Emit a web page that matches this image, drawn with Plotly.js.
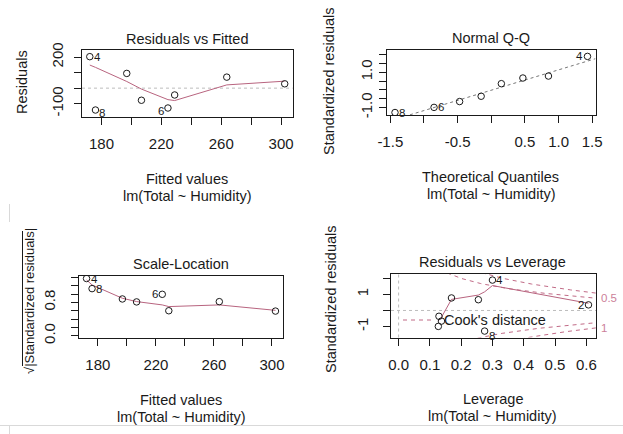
<!DOCTYPE html>
<html>
<head>
<meta charset="utf-8">
<script src="https://cdn.plot.ly/plotly-3.0.1.min.js"></script>
<style>
  html, body { margin: 0; padding: 0; background: #ffffff; }
  #plot { width: 623px; height: 434px; }
</style>
</head>
<body>
<div id="plot"></div>
<script>
// Regression diagnostics for lm(Total ~ Humidity), eight observations.
const modelCall = 'lm(Total ~ Humidity)';
const obsLabel = ['4', '8', '', '', '6', '', '', '2'];
const fittedValues = [172.2, 176.0, 196.9, 206.7, 224.4, 228.9, 263.7, 302.4];
const residuals = [203, -141, 95, -78, -128, -44, 71, 28];
const stdResiduals = [1.89, -1.28, 0.78, -0.66, -0.99, -0.36, 0.67, 0.35];
const leverage = [0.300, 0.275, 0.169, 0.137, 0.127, 0.129, 0.255, 0.607];
const theoreticalQuantiles = [-1.43, -0.85, -0.47, -0.15, 0.15, 0.47, 0.85, 1.43];

// lowess smooths, one value per fitted value / sorted leverage
const residSmooth = [149, 134, 43, -6, -74, -80, 21, 45];
const scaleSmooth = [1.34, 1.22, 0.90, 0.82, 0.74, 0.70, 0.74, 0.61];
const leverageSmooth = [-0.66, -0.58, -0.42, 0.69, 0.96, 1.16, 1.55, 0.45];

// Q-Q reference line and Cook's distance contours
const qqSlope = 1.15;
const qqIntercept = -0.02;
const cookLevels = [0.5, 1];
const nCoef = 2;

// axis ranges
const fittedRange = [167, 307.6];
const residRange = [-186, 246];
const qqXRange = [-1.549, 1.549];
const qqYRange = [-1.42, 2.28];
const slYRange = [-0.055, 1.435];
const levXRange = [-0.0243, 0.631];
const levYRange = [-1.68, 2.30];

const W = 623, H = 434;
const px = v => v / W;
const py = v => 1 - v / H;

const FONT = 'Liberation Sans, Arial, Helvetica, sans-serif';
const INK = '#1a1a1a';
const SMOOTH = '#b8647f';
const COOK = '#c06a86';
const COOK_TXT = '#cc7f99';

const sqrtAbs = stdResiduals.map(v => Math.sqrt(Math.abs(v)));
const qqY = stdResiduals.slice().sort((a, b) => a - b);
const qqOrderLabel = stdResiduals.map((v, i) => [v, obsLabel[i]]).sort((a, b) => a[0] - b[0]).map(d => d[1]);
const levOrder = leverage.map((v, i) => i).sort((a, b) => leverage[a] - leverage[b]);
const levSorted = levOrder.map(i => leverage[i]);

function pts(x, y, xa, ya) {
  return { x, y, xaxis: xa, yaxis: ya, type: 'scatter', mode: 'markers', hoverinfo: 'skip',
    marker: { symbol: 'circle-open', size: 6.5, color: INK, line: { width: 1, color: INK } } };
}
function line(x, y, xa, ya, color, dash, width) {
  return { x, y, xaxis: xa, yaxis: ya, type: 'scatter', mode: 'lines', hoverinfo: 'skip',
    line: { color, width: width || 1, dash: dash || 'solid' } };
}

const traces = [];
// Residuals vs Fitted
traces.push(line(fittedValues, residSmooth, 'x', 'y', SMOOTH));
traces.push(pts(fittedValues, residuals, 'x', 'y'));
// Normal Q-Q
traces.push(line(qqXRange, qqXRange.map(q => qqIntercept + qqSlope * q), 'x2', 'y2', '#777777', 'dot'));
traces.push(pts(theoreticalQuantiles, qqY, 'x2', 'y2'));
// Scale-Location
traces.push(line(fittedValues, scaleSmooth, 'x3', 'y3', SMOOTH));
traces.push(pts(fittedValues, sqrtAbs, 'x3', 'y3'));
// Residuals vs Leverage: Cook's distance contours
const hStart = Math.min(levSorted[0], levSorted[levSorted.length - 1] / 100);
const hh = [];
for (let k = 0; k <= 100; k++) hh.push(hStart + (levXRange[1] - hStart) * k / 100);
cookLevels.forEach(crit => {
  const cl = hh.map(h => Math.sqrt(crit * nCoef * (1 - h) / h));
  traces.push(line(hh, cl, 'x4', 'y4', COOK, '4px,4px'));
  traces.push(line(hh, cl.map(v => -v), 'x4', 'y4', COOK, '4px,4px'));
});
traces.push(line(levSorted, leverageSmooth, 'x4', 'y4', SMOOTH));
traces.push(pts(leverage, stdResiduals, 'x4', 'y4'));

function axis(domain, range, tickvals, ticktext, extra) {
  return Object.assign({
    domain, range, tickvals, ticktext, autorange: false, fixedrange: true,
    showline: true, mirror: true, linecolor: INK, linewidth: 1,
    ticks: 'outside', ticklen: 7, tickwidth: 1, tickcolor: INK,
    showgrid: false, zeroline: false,
    tickfont: { family: FONT, size: 15, color: INK }
  }, extra || {});
}
const fitTicks = [180, 200, 220, 240, 260, 280, 300];
const fitText = ['180', '', '220', '', '260', '', '300'];

const layout = {
  width: W, height: H, margin: { l: 0, r: 0, t: 0, b: 0 },
  paper_bgcolor: '#ffffff', plot_bgcolor: 'rgba(0,0,0,0)', showlegend: false,
  font: { family: FONT, color: INK },
  xaxis: axis([px(82), px(292.5)], fittedRange, fitTicks, fitText, { anchor: 'y', ticklabelstandoff: 6 }),
  yaxis: axis([py(117), py(50)], residRange, [-100, 0, 100, 200], ['-100', '', '', '200'], { anchor: 'x', tickangle: -90, ticklabelstandoff: 5 }),
  xaxis2: axis([px(387), px(595.5)], qqXRange, [-1.5, -1, -0.5, 0, 0.5, 1, 1.5], ['-1.5', '', '-0.5', '', '0.5', '1.0', '1.5'], { anchor: 'y2', ticklabelstandoff: 6 }),
  yaxis2: axis([py(115), py(49.5)], qqYRange, [-1, -0.5, 0, 0.5, 1, 1.5, 2], ['-1.0', '', '', '', '1.0', '', ''], { anchor: 'x2', tickangle: -90, ticklabelstandoff: 1 }),
  xaxis3: axis([px(79), px(283)], fittedRange, fitTicks, fitText, { anchor: 'y3', ticklabelstandoff: 6 }),
  yaxis3: axis([py(338), py(276)], slYRange, [0, 0.2, 0.4, 0.6, 0.8, 1.0, 1.2, 1.4], ['0.0', '', '', '', '0.8', '', '', ''], { anchor: 'x3', tickangle: -90, ticklabelstandoff: 10 }),
  xaxis4: axis([px(391), px(596)], levXRange, [0, 0.1, 0.2, 0.3, 0.4, 0.5, 0.6], ['0.0', '0.1', '0.2', '0.3', '0.4', '0.5', '0.6'], { anchor: 'y4', ticklabelstandoff: 6 }),
  yaxis4: axis([py(337.5), py(273.5)], levYRange, [-1, 0, 1, 2], ['-1', '', '1', ''], { anchor: 'x4', tickangle: -90, ticklabelstandoff: 9 }),
  shapes: [], annotations: []
};

// dotted reference lines
const dotted = { color: '#bdbdbd', width: 1, dash: 'dot' };
layout.shapes.push({ type: 'line', xref: 'x domain', yref: 'y', x0: 0, x1: 1, y0: 0, y1: 0, line: dotted, layer: 'below' });
layout.shapes.push({ type: 'line', xref: 'x4 domain', yref: 'y4', x0: 0, x1: 1, y0: 0, y1: 0, line: dotted, layer: 'below' });
layout.shapes.push({ type: 'line', xref: 'x4', yref: 'y4 domain', x0: 0, x1: 0, y0: 0, y1: 1, line: dotted, layer: 'below' });

// Cook's distance legend
layout.shapes.push({ type: 'line', xref: 'paper', yref: 'paper', x0: px(403), x1: px(431), y0: py(320), y1: py(320),
  line: { color: COOK, width: 1, dash: '4px,4px' } });
layout.annotations.push({ xref: 'paper', yref: 'paper', x: px(442), y: py(320), xanchor: 'left', yanchor: 'middle',
  text: "Cook's distance", showarrow: false, font: { family: FONT, size: 14.5, color: INK } });

// Cook's level labels on the right edge
const xmax = Math.min(0.99, levXRange[1]);
const ymult = Math.sqrt(nCoef * (1 - xmax) / xmax);
layout.annotations.push({ xref: 'paper', yref: 'y4', x: px(599), y: Math.sqrt(cookLevels[0]) * ymult, xanchor: 'left', yanchor: 'middle',
  text: String(cookLevels[0]), showarrow: false, font: { family: FONT, size: 11.5, color: COOK_TXT } });
layout.annotations.push({ xref: 'paper', yref: 'y4', x: px(599), y: -Math.sqrt(cookLevels[1]) * ymult, xanchor: 'left', yanchor: 'middle',
  text: String(cookLevels[1]), showarrow: false, font: { family: FONT, size: 11.5, color: COOK_TXT } });

// observation id labels
function idLabel(xa, ya, x, y, text, side, dy) {
  layout.annotations.push({ xref: xa, yref: ya, x, y, text, showarrow: false,
    xanchor: side === 'right' ? 'left' : 'right', yanchor: 'middle',
    xshift: side === 'right' ? 2 : -2, yshift: dy || 0,
    font: { family: FONT, size: 11.5, color: INK } });
}
const sideRF = { '4': ['right', 0], '8': ['right', -3], '6': ['left', -3] };
fittedValues.forEach((f, i) => { const s = sideRF[obsLabel[i]]; if (s) idLabel('x', 'y', f, residuals[i], obsLabel[i], s[0], s[1]); });
const sideQQ = { '8': ['right', 0], '6': ['right', 0], '4': ['left', 0] };
theoreticalQuantiles.forEach((q, i) => { const s = sideQQ[qqOrderLabel[i]]; if (s) idLabel('x2', 'y2', q, qqY[i], qqOrderLabel[i], s[0], s[1]); });
const sideSL = { '4': ['right', 0], '8': ['right', 0], '6': ['left', 0] };
fittedValues.forEach((f, i) => { const s = sideSL[obsLabel[i]]; if (s) idLabel('x3', 'y3', f, sqrtAbs[i], obsLabel[i], s[0], s[1]); });
const sideLV = { '4': ['right', 0], '8': ['right', -5], '2': ['left', 0] };
leverage.forEach((h, i) => { const s = sideLV[obsLabel[i]]; if (s) idLabel('x4', 'y4', h, stdResiduals[i], obsLabel[i], s[0], s[1]); });

// panel captions and axis titles
function txt(x, y, text, size, angle) {
  layout.annotations.push({ xref: 'paper', yref: 'paper', x: px(x), y: py(y), text, showarrow: false,
    xanchor: 'center', yanchor: 'middle', textangle: angle || 0,
    font: { family: FONT, size: size || 14.5, color: INK } });
}
txt(187.5, 38.5, 'Residuals vs Fitted');
txt(491, 38, 'Normal Q-Q');
txt(180.5, 263.5, 'Scale-Location');
txt(492.5, 262, 'Residuals vs Leverage');

txt(187, 178.5, 'Fitted values');
txt(187, 195.5, modelCall);
txt(490, 177, 'Theoretical Quantiles');
txt(491, 193.5, modelCall);
txt(181, 399.5, 'Fitted values');
txt(181, 417, modelCall);
txt(493, 398.5, 'Leverage');
txt(492.5, 416, modelCall);

txt(21.5, 82.5, 'Residuals', 14.5, -90);
txt(329, 81, 'Standardized residuals', 14.5, -90);
txt(29, 301, '\u221A|Standardized residuals|', 13, -90);
txt(331, 299, 'Standardized residuals', 14.5, -90);
// overbar of the square-root sign
layout.shapes.push({ type: 'line', xref: 'paper', yref: 'paper', x0: px(22.5), x1: px(22.5), y0: py(231), y1: py(366),
  line: { color: INK, width: 1 } });

// thin page edge lines
const edge = { color: '#d9d9d9', width: 1 };
layout.shapes.push({ type: 'line', xref: 'paper', yref: 'paper', x0: 0, x1: 1, y0: py(425.5), y1: py(425.5), line: edge });
layout.shapes.push({ type: 'line', xref: 'paper', yref: 'paper', x0: px(9.5), x1: px(9.5), y0: py(425.5), y1: py(434), line: edge });
layout.shapes.push({ type: 'line', xref: 'paper', yref: 'paper', x0: px(9.5), x1: px(9.5), y0: py(204), y1: py(222), line: edge });

Plotly.newPlot('plot', traces, layout, { staticPlot: true, displayModeBar: false });
</script>
</body>
</html>
